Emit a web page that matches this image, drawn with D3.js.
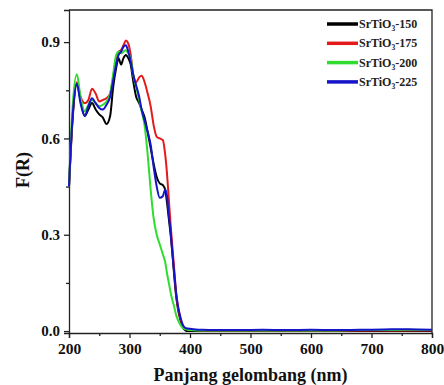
<!DOCTYPE html>
<html>
<head>
<meta charset="utf-8">
<script src="https://cdn.jsdelivr.net/npm/d3@7"></script>
<style>
  body { margin: 0; background: #fff; }
  svg { display: block; }
  text { font-family: "Liberation Serif", "Times New Roman", serif; font-weight: bold; }
</style>
</head>
<body>
<div id="chart"></div>
<script>
// wavelength grid (nm)
const wavelengths = [200, 206, 213, 219, 226, 232, 238, 244, 250, 256, 262, 268, 273, 278, 282, 286, 290, 294, 298, 302, 306, 311, 316, 320, 325, 330, 335, 340, 345, 350, 355, 359, 362, 365, 368, 371, 374, 377, 380, 384, 388, 392, 396, 400, 410, 420, 440, 480, 520, 560, 600, 640, 680, 720, 760, 800]

const fr150 = [0.45, 0.66, 0.77, 0.72, 0.67, 0.69, 0.71, 0.69, 0.675, 0.665, 0.645, 0.67, 0.76, 0.82, 0.85, 0.83, 0.85, 0.86, 0.85, 0.83, 0.78, 0.73, 0.71, 0.69, 0.665, 0.62, 0.57, 0.52, 0.48, 0.46, 0.455, 0.44, 0.40, 0.35, 0.30, 0.24, 0.17, 0.11, 0.07, 0.035, 0.012, 0.003, 0.0, 0.0, 0.0, 0.0, 0.0, 0.0, 0.0, 0.0, 0.0, 0.0, 0.0, 0.0, 0.0, 0.0]
const fr175 = [0.45, 0.67, 0.775, 0.73, 0.71, 0.72, 0.755, 0.74, 0.715, 0.72, 0.725, 0.74, 0.79, 0.85, 0.87, 0.875, 0.89, 0.905, 0.895, 0.86, 0.80, 0.775, 0.79, 0.795, 0.775, 0.74, 0.70, 0.64, 0.605, 0.60, 0.595, 0.55, 0.49, 0.41, 0.33, 0.26, 0.19, 0.12, 0.075, 0.04, 0.017, 0.008, 0.005, 0.004, 0.003, 0.002, 0.002, 0.002, 0.002, 0.002, 0.002, 0.002, 0.002, 0.002, 0.002, 0.002]
const fr200 = [0.45, 0.70, 0.80, 0.73, 0.685, 0.705, 0.72, 0.71, 0.70, 0.705, 0.715, 0.74, 0.80, 0.86, 0.87, 0.865, 0.87, 0.875, 0.865, 0.85, 0.80, 0.76, 0.72, 0.685, 0.64, 0.55, 0.44, 0.35, 0.30, 0.27, 0.24, 0.215, 0.18, 0.15, 0.12, 0.095, 0.075, 0.05, 0.035, 0.02, 0.01, 0.006, 0.004, 0.003, 0.002, 0.002, 0.002, 0.002, 0.002, 0.002, 0.002, 0.002, 0.003, 0.003, 0.004, 0.003]
const fr225 = [0.45, 0.67, 0.77, 0.71, 0.67, 0.70, 0.725, 0.71, 0.695, 0.69, 0.705, 0.73, 0.78, 0.83, 0.86, 0.87, 0.885, 0.89, 0.87, 0.84, 0.80, 0.765, 0.73, 0.69, 0.655, 0.62, 0.58, 0.51, 0.45, 0.415, 0.42, 0.44, 0.42, 0.36, 0.31, 0.24, 0.18, 0.12, 0.08, 0.045, 0.02, 0.01, 0.008, 0.007, 0.005, 0.004, 0.003, 0.003, 0.004, 0.003, 0.004, 0.003, 0.004, 0.005, 0.006, 0.004]

const seriesNames = ["150", "175", "200", "225"]
const seriesColors = ["#000000", "#e41a1a", "#2fdc2f", "#1414c8"]
const seriesValues = [fr150, fr175, fr200, fr225]

const xTicks = [200, 300, 400, 500, 600, 700, 800]
const yTicks = [0.0, 0.3, 0.6, 0.9]

const width = 444, height = 385
const margin = { top: 10, right: 12, bottom: 52, left: 69 }

const svg = d3.select("#chart").append("svg")
  .attr("width", width)
  .attr("height", height)

const x = d3.scaleLinear().domain([200, 800]).range([margin.left, width - margin.right])
const y = d3.scaleLinear().domain([-0.006, 1.0]).range([height - margin.bottom, margin.top])

// minor ticks
const xMinor = d3.range(250, 800, 100)
const yMinor = [0.15, 0.45, 0.75]

const xAxis = d3.axisBottom(x).tickValues(xTicks).tickFormat(d3.format("d")).tickSizeOuter(0).tickSize(5).tickPadding(5)
const yAxis = d3.axisLeft(y).tickValues(yTicks).tickFormat(d3.format(".1f")).tickSizeOuter(0).tickSize(5).tickPadding(4)

const gx = svg.append("g")
  .attr("transform", "translate(0," + (height - margin.bottom) + ")")
  .call(xAxis)
gx.selectAll("text").attr("font-size", 15.5).attr("fill", "#111")

svg.append("g")
  .attr("transform", "translate(0," + (height - margin.bottom) + ")")
  .call(d3.axisBottom(x).tickValues(xMinor).tickFormat("").tickSize(3).tickSizeOuter(0))
  .select(".domain").remove()

const gy = svg.append("g")
  .attr("transform", "translate(" + margin.left + ",0)")
  .call(yAxis)
gy.selectAll("text").attr("font-size", 15).attr("fill", "#111")

svg.append("g")
  .attr("transform", "translate(" + margin.left + ",0)")
  .call(d3.axisLeft(y).tickValues(yMinor).tickFormat("").tickSize(3).tickSizeOuter(0))
  .select(".domain").remove()

svg.selectAll(".domain, .tick line").attr("stroke", "#222").attr("stroke-width", 1.3)

// frame top & right
svg.append("path")
  .attr("d", "M" + margin.left + "," + margin.top + "H" + (width - margin.right) + "V" + (height - margin.bottom))
  .attr("fill", "none")
  .attr("stroke", "#222")
  .attr("stroke-width", 1.3)

// lines
const line = d3.line()
  .x((d, i) => x(wavelengths[i]))
  .y(d => y(d))
  .curve(d3.curveMonotoneX)

svg.append("g").selectAll("path")
  .data(seriesValues)
  .join("path")
    .attr("d", line)
    .attr("fill", "none")
    .attr("stroke", (d, i) => seriesColors[i])
    .attr("stroke-width", 2)
    .attr("stroke-linejoin", "round")

// legend
const legend = svg.append("g").attr("transform", "translate(327,24)")
const row = legend.selectAll("g")
  .data(seriesNames)
  .join("g")
    .attr("transform", (d, i) => "translate(0," + i * 19.3 + ")")

row.append("line")
  .attr("x1", 0).attr("x2", 31)
  .attr("stroke", (d, i) => seriesColors[i])
  .attr("stroke-width", 3.5)

const lt = row.append("text")
  .attr("x", 32)
  .attr("y", 4)
  .attr("font-size", 12)
  .attr("fill", "#222")
lt.append("tspan").text("SrTiO")
lt.append("tspan").attr("font-size", 7.5).attr("dy", 3).text("3")
lt.append("tspan").attr("dy", -3).text(d => "-" + d)

// axis titles
svg.append("text")
  .attr("x", (margin.left + width - margin.right) / 2)
  .attr("y", 381)
  .attr("text-anchor", "middle")
  .attr("font-size", 18)
  .attr("fill", "#111")
  .text("Panjang gelombang (nm)")

svg.append("text")
  .attr("transform", "translate(29,170) rotate(-90)")
  .attr("text-anchor", "middle")
  .attr("font-size", 18)
  .attr("fill", "#111")
  .text("F(R)")
</script>
</body>
</html>
